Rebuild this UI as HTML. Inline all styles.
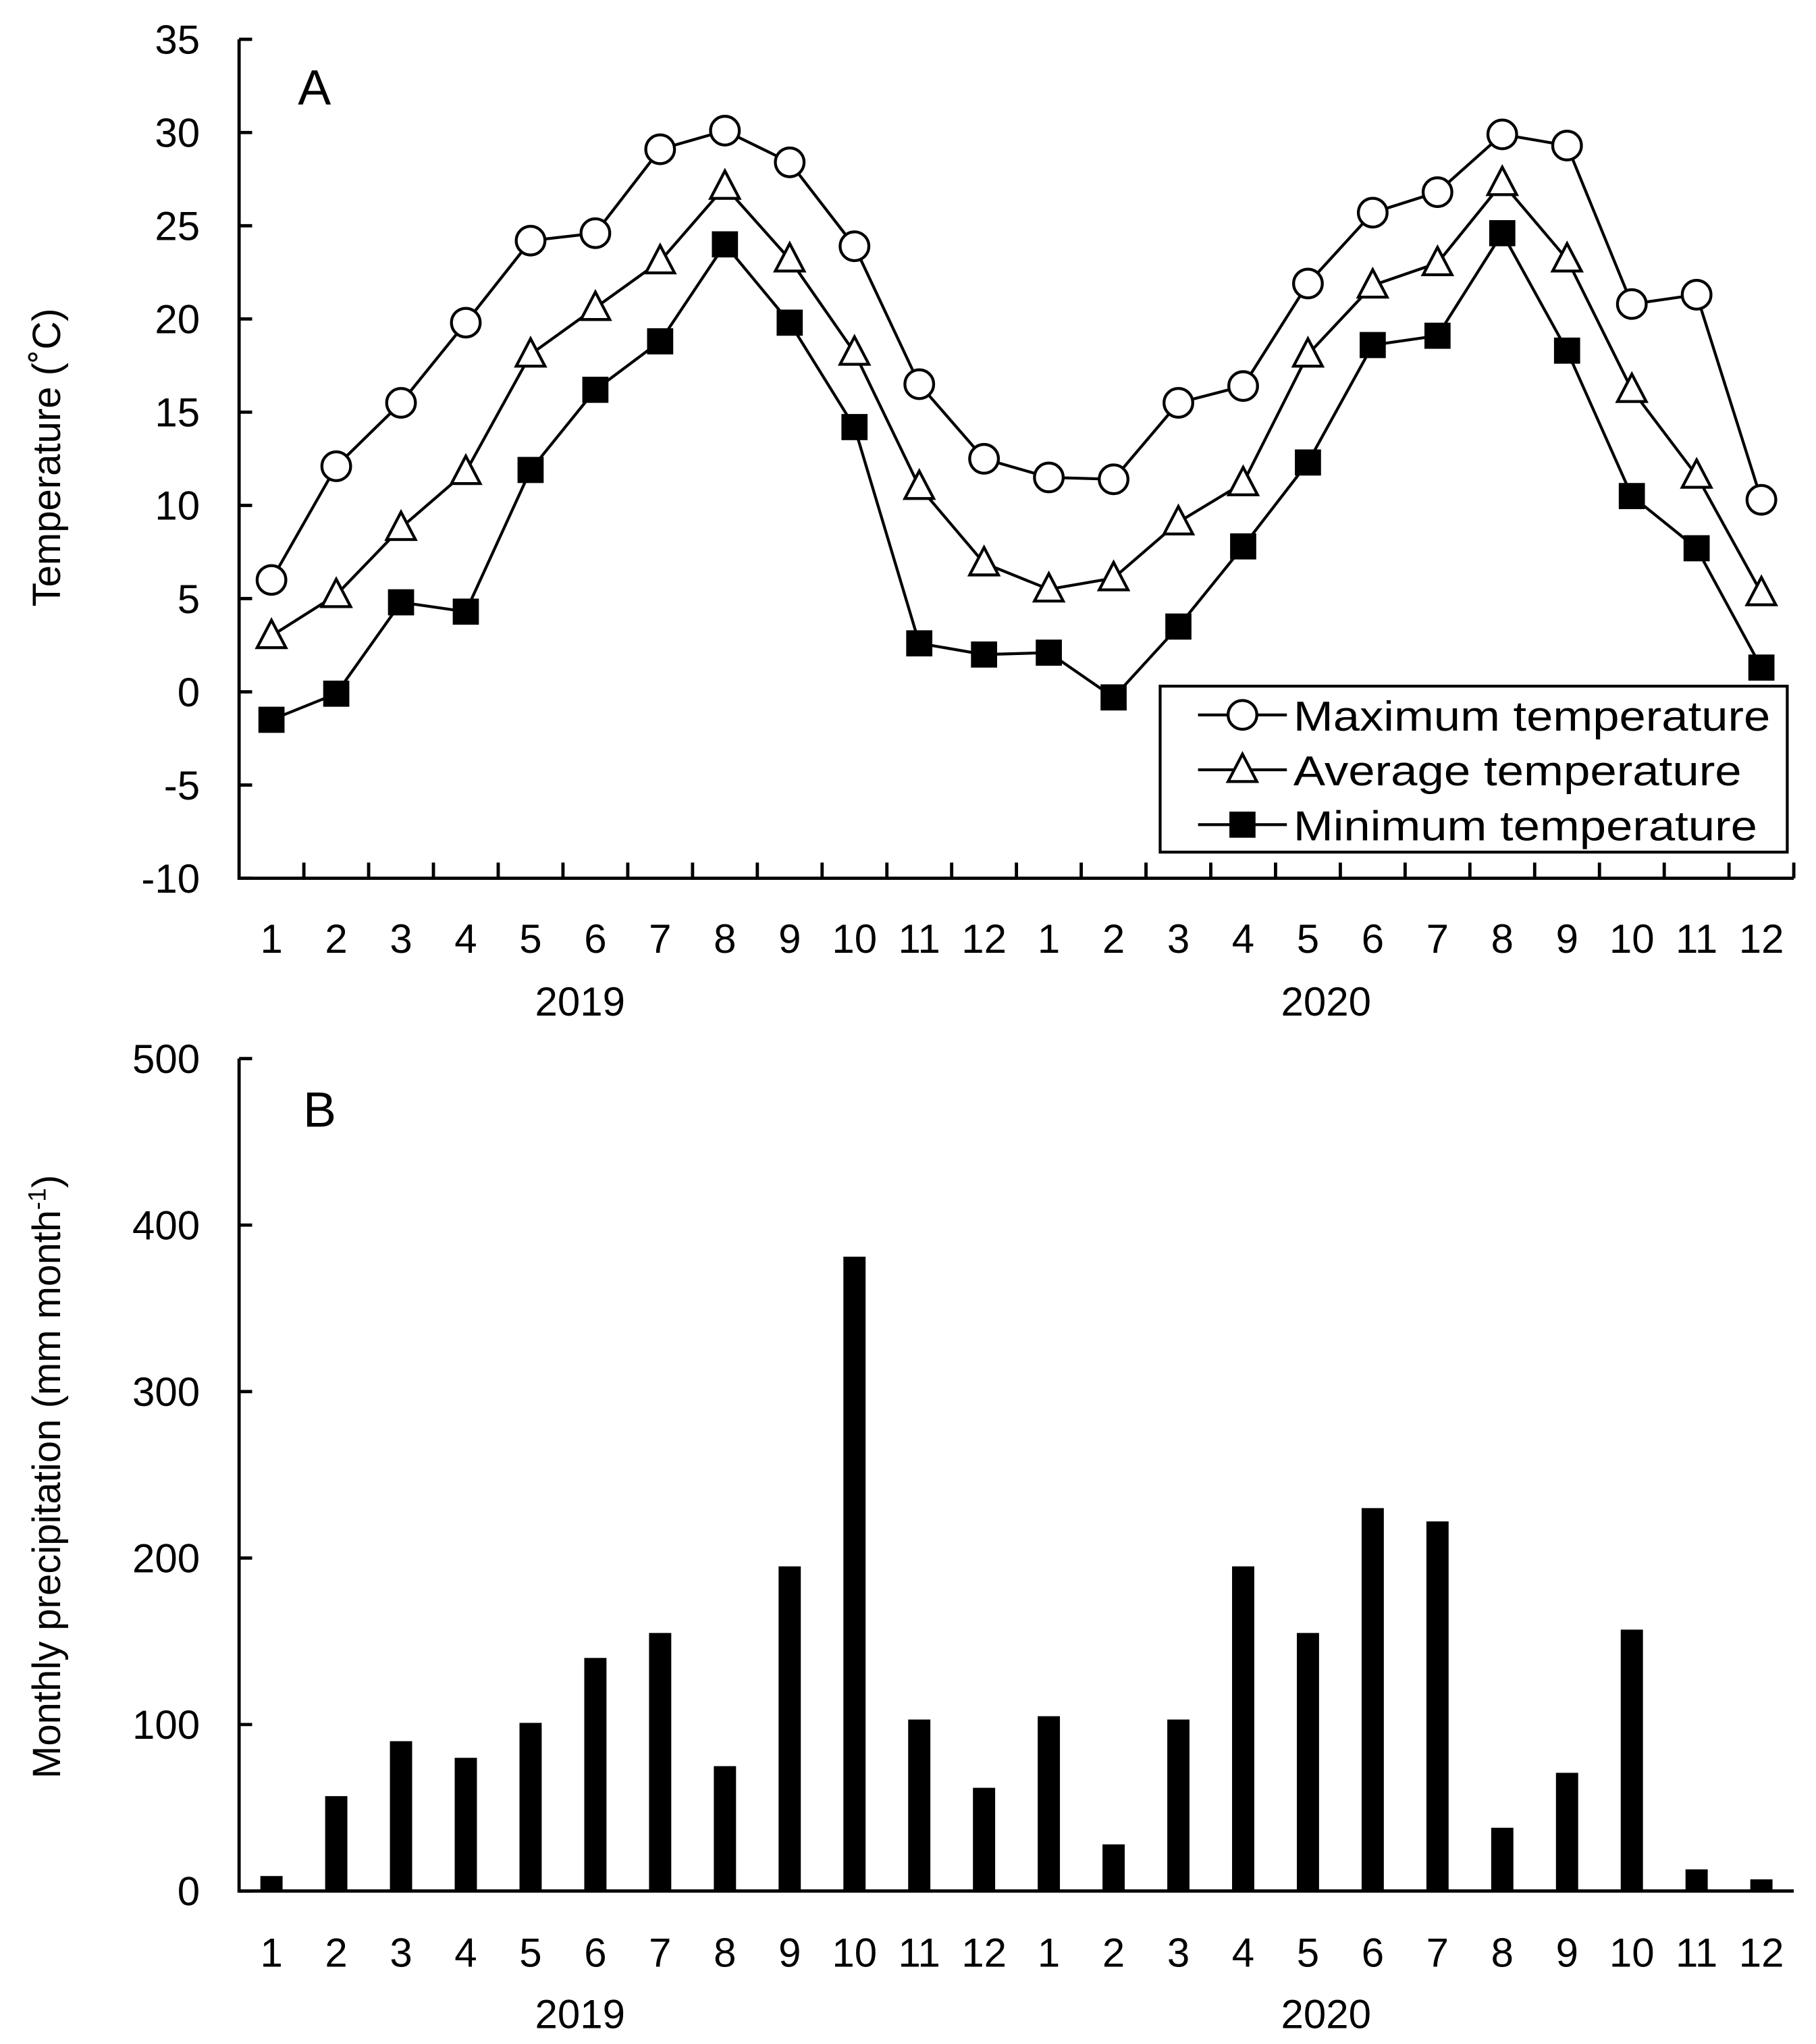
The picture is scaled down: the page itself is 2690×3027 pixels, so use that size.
<!DOCTYPE html>
<html><head><meta charset="utf-8"><style>
html,body{margin:0;padding:0;background:#fff}
svg{display:block}
text{font-family:"Liberation Sans",Arial,sans-serif;fill:#000}
</style></head><body>
<svg id="chart" width="2690" height="3027" viewBox="0 0 1390 1564" xmlns="http://www.w3.org/2000/svg"></svg>
<script>
const months = ["1","2","3","4","5","6","7","8","9","10","11","12","1","2","3","4","5","6","7","8","9","10","11","12"];
const years = ["2019","2020"];
const maxTemp = [6,12.1,15.5,19.8,24.2,24.6,29.1,30.1,28.4,23.9,16.5,12.5,11.5,11.4,15.5,16.4,21.9,25.7,26.8,29.9,29.3,20.8,21.3,10.3];
const avgTemp = [3,5.2,8.8,11.8,18.1,20.6,23.1,27.1,23.2,18.2,11.0,6.9,5.5,6.1,9.1,11.2,18.1,21.8,23.0,27.3,23.2,16.2,11.6,5.3];
const minTemp = [-1.5,-0.1,4.8,4.3,11.9,16.2,18.8,24.0,19.8,14.2,2.6,2.0,2.1,-0.3,3.5,7.8,12.3,18.6,19.1,24.6,18.3,10.5,7.7,1.3];
const precip = [9,57,90,80,101,140,155,75,195,381,103,62,105,28,103,195,155,230,222,38,71,157,13,7];
const tempTicks = [-10,-5,0,5,10,15,20,25,30,35];
const precipTicks = [0,100,200,300,400,500];

const svg = document.getElementById('chart');
const NS = 'http://www.w3.org/2000/svg';
function mk(tag, attrs, parent){const e=document.createElementNS(NS,tag);for(const k in attrs)e.setAttribute(k,attrs[k]);(parent||svg).appendChild(e);return e;}

const X0=183, X1=1373, step=(X1-X0)/24;
const xc = i => X0 + step*(i+0.5);
const yT = v => 672 - (v+10)/45*(672-30);
const yP = v => 1447 - v/500*(1447-810);
const FS = 31;

// ---- Panel A ----
const gA = mk('g',{});


let ax = mk('path',{d:`M${X0},30 V672 H${X1}`,stroke:'#000','stroke-width':2.5,fill:'none'},gA);


tempTicks.forEach(t=>{
  mk('line',{x1:X0,x2:X0+10,y1:yT(t),y2:yT(t),stroke:'#000','stroke-width':2.5},gA);
  const tx=mk('text',{x:153,y:yT(t)+11,'font-size':FS,'text-anchor':'end'},gA);
  tx.textContent=t;
  
  
});
for(let k=1;k<=24;k++){mk('line',{x1:X0+step*k,x2:X0+step*k,y1:672,y2:660,stroke:'#000','stroke-width':2.5},gA);}
months.forEach((m,i)=>{
  const tx=mk('text',{x:xc(i),y:729,'font-size':FS,'text-anchor':'middle'},gA);
  tx.textContent=m;
  
  
});
years.forEach((yv,j)=>{
  const tx=mk('text',{x:j?1015:444,y:777,'font-size':FS,'text-anchor':'middle'},gA);
  tx.textContent=yv;
  
  
});
let tA=mk('text',{x:0,y:0,'font-size':30,'text-anchor':'middle',transform:'translate(46,350) rotate(-90)'},gA);
tA.textContent='Temperature (˚C)';


let lA=mk('text',{x:228,y:80,'font-size':38},gA);
lA.textContent='A';



function marker(type,cx,cy,parent){
  if(type==='circle') return mk('circle',{cx,cy,r:11,fill:'#fff',stroke:'#000','stroke-width':2.2},parent);
  if(type==='tri') return mk('polygon',{points:`${cx},${cy-12} ${cx+11},${cy+9} ${cx-11},${cy+9}`,fill:'#fff',stroke:'#000','stroke-width':2.2},parent);
  return mk('rect',{x:cx-10,y:cy-10,width:20,height:20,fill:'#000'},parent);
}
function series(vals,type,name){
  const g=mk('g',{},gA);
  
  
  mk('polyline',{points:vals.map((v,i)=>`${xc(i)},${yT(v)}`).join(' '),fill:'none',stroke:'#000','stroke-width':2.2},g);
  vals.forEach((v,i)=>{const m=marker(type,xc(i),yT(v),g);
    
    });
}
series(maxTemp,'circle','max-temperature-series');
series(avgTemp,'tri','avg-temperature-series');
series(minTemp,'square','min-temperature-series');

// legend
const lg=mk('g',{},gA);


mk('rect',{x:888,y:525,width:480,height:127,fill:'#fff',stroke:'#000','stroke-width':2.2},lg);
[['circle','Maximum temperature',547,365],['tri','Average temperature',589,343],['square','Minimum temperature',631,355]].forEach(([t,lab,y,w])=>{
  const e=mk('g',{},lg);
  
  
  mk('line',{x1:917,x2:985,y1:y,y2:y,stroke:'#000','stroke-width':2.2},e);
  marker(t,951,y,e);
  const tx=mk('text',{x:990,y:y+12,'font-size':32,textLength:w,lengthAdjust:'spacingAndGlyphs'},e);
  tx.textContent=lab;
});

// ---- Panel B ----
const gB=mk('g',{});


let axB=mk('path',{d:`M${X0},810 V1447 H${X1}`,stroke:'#000','stroke-width':2.5,fill:'none'},gB);


precipTicks.forEach(t=>{
  mk('line',{x1:X0,x2:X0+10,y1:yP(t),y2:yP(t),stroke:'#000','stroke-width':2.5},gB);
  const tx=mk('text',{x:153,y:yP(t)+11,'font-size':FS,'text-anchor':'end'},gB);
  tx.textContent=t;
  
  
});
precip.forEach((v,i)=>{
  const b=mk('rect',{x:xc(i)-8.5,y:yP(v),width:17,height:yP(0)-yP(v),fill:'#000'},gB);
  
  
});
months.forEach((m,i)=>{
  const tx=mk('text',{x:xc(i),y:1505,'font-size':FS,'text-anchor':'middle'},gB);
  tx.textContent=m;
  
  
});
years.forEach((yv,j)=>{
  const tx=mk('text',{x:j?1015:444,y:1552,'font-size':FS,'text-anchor':'middle'},gB);
  tx.textContent=yv;
  
  
});
let tB=mk('text',{x:0,y:0,'font-size':30,'text-anchor':'middle',transform:'translate(46,1130) rotate(-90)'},gB);
tB.innerHTML='Monthly precipitation (mm month<tspan font-size="19" dy="-11">-1</tspan><tspan dy="11">)</tspan>';


let lB=mk('text',{x:232,y:862,'font-size':38},gB);
lB.textContent='B';


</script>
</body></html>
